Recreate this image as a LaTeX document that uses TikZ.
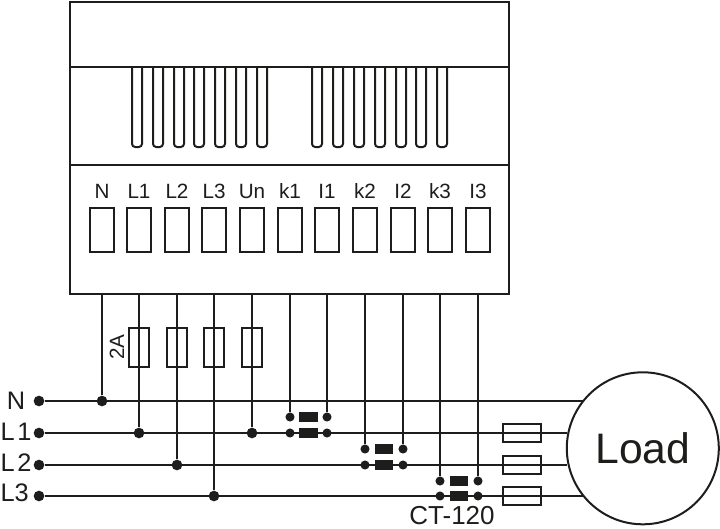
\documentclass[tikz,border=0pt]{standalone}
\usepackage{fontspec}
\setmainfont{Liberation Sans}
\definecolor{ink}{HTML}{1D1D1B}
\tikzset{
  wire/.style={draw=ink,line width=1.5pt},
  casebox/.style={draw=ink,line width=1.5pt,minimum width=329.25pt,minimum height=219pt,inner sep=0pt},
  slot/.style={draw=ink,line width=1.5pt,rounded corners=2.4pt},
  terminal/.style={draw=ink,line width=1.5pt,minimum width=18pt,minimum height=33pt,inner sep=0pt},
  termlabel/.style={text=ink,inner sep=0pt,font=\fontsize{15.5}{17}\selectfont},
  linelabel/.style={text=ink,inner sep=0pt,font=\fontsize{19}{21}\selectfont},
  fuse/.style={draw=ink,line width=1.5pt,minimum width=15pt,minimum height=29.25pt,inner sep=0pt},
  loadfuse/.style={draw=ink,line width=1.5pt,minimum width=28.5pt,minimum height=13.5pt,inner sep=0pt},
  dot/.style={circle,fill=ink,inner sep=0pt,minimum size=8pt},
  ctdot/.style={circle,fill=ink,inner sep=0pt,minimum size=6.8pt},
  core/.style={fill=ink,inner sep=0pt,minimum width=14pt,minimum height=8pt},
  loadcircle/.style={circle,draw=ink,line width=1.5pt,minimum size=114pt,inner sep=0pt,font=\fontsize{32}{35}\selectfont,text=ink}
}
\begin{document}
\begin{tikzpicture}[x=.75pt,y=-.75pt]
  \useasboundingbox (0,0) rectangle (720,528);
  % housing
  \node[casebox] (case) at (289.5,148) {};
  \draw[wire] (case.west |- 0,67) -- (case.east |- 0,67);
  \draw[wire] (case.west |- 0,165) -- (case.east |- 0,165);
  % vent slots
  \draw[slot] (132,67) -- (132,147) -- (142,147) -- (142,67);
  \draw[slot] (153,67) -- (153,147) -- (163,147) -- (163,67);
  \draw[slot] (174,67) -- (174,147) -- (184,147) -- (184,67);
  \draw[slot] (194,67) -- (194,147) -- (204,147) -- (204,67);
  \draw[slot] (215,67) -- (215,147) -- (225,147) -- (225,67);
  \draw[slot] (236,67) -- (236,147) -- (246,147) -- (246,67);
  \draw[slot] (257,67) -- (257,147) -- (267,147) -- (267,67);
  \draw[slot] (312,67) -- (312,147) -- (322,147) -- (322,67);
  \draw[slot] (333,67) -- (333,147) -- (343,147) -- (343,67);
  \draw[slot] (354,67) -- (354,147) -- (364,147) -- (364,67);
  \draw[slot] (375,67) -- (375,147) -- (385,147) -- (385,67);
  \draw[slot] (396,67) -- (396,147) -- (406,147) -- (406,67);
  \draw[slot] (416,67) -- (416,147) -- (426,147) -- (426,67);
  \draw[slot] (437,67) -- (437,147) -- (447,147) -- (447,67);
  % terminals
  \node[terminal] (tN) at (102,230) {};
  \node[terminal] (tLa) at (139,230) {};
  \node[terminal] (tLb) at (177,230) {};
  \node[terminal] (tLc) at (214,230) {};
  \node[terminal] (tUn) at (252,230) {};
  \node[terminal] (tka) at (290,230) {};
  \node[terminal] (tia) at (327,230) {};
  \node[terminal] (tkb) at (365,230) {};
  \node[terminal] (tib) at (403,230) {};
  \node[terminal] (tkc) at (440,230) {};
  \node[terminal] (tic) at (478,230) {};
  \node[termlabel,anchor=base] (nN) at (102,198) {N};
  \node[termlabel,anchor=base] (nLa) at (139,198) {L1};
  \node[termlabel,anchor=base] (nLb) at (177,198) {L2};
  \node[termlabel,anchor=base] (nLc) at (214,198) {L3};
  \node[termlabel,anchor=base] (nUn) at (252,198) {Un};
  \node[termlabel,anchor=base] (nka) at (290,198) {k1};
  \node[termlabel,anchor=base] (nia) at (327,198) {I1};
  \node[termlabel,anchor=base] (nkb) at (365,198) {k2};
  \node[termlabel,anchor=base] (nib) at (403,198) {I2};
  \node[termlabel,anchor=base] (nkc) at (440,198) {k3};
  \node[termlabel,anchor=base] (nic) at (478,198) {I3};
  % supply lines
  \node[linelabel] (lN) at (16,401) {N};
  \node[linelabel,anchor=west] (lLa) at (.3,431.7) {L\kern2pt 1};
  \node[linelabel,anchor=west] (lLb) at (.3,462.7) {L\kern2pt 2};
  \node[linelabel,anchor=west] (lLc) at (.3,492.3) {L3};
  \node[dot] (sN) at (39,401) {};
  \node[dot] (sLa) at (39,433) {};
  \node[dot] (sLb) at (39,465) {};
  \node[dot] (sLc) at (39,496) {};
  \node[loadcircle] (load) at (642.8,448.3) {Load};
  \coordinate (eN) at (583.3,401);
  \coordinate (eLa) at (567,433);
  \coordinate (eLb) at (567,465);
  \coordinate (eLc) at (583.7,496);
  \draw[wire] (sN) -- (eN);
  \draw[wire] (sLa) -- (eLa);
  \draw[wire] (sLb) -- (eLb);
  \draw[wire] (sLc) -- (eLc);
  % junctions
  \node[dot] (jN) at (102,401) {};
  \node[dot] (jLa) at (139,433) {};
  \node[dot] (jLb) at (177,465) {};
  \node[dot] (jLc) at (214,496) {};
  \node[dot] (jUn) at (252,433) {};
  % fuses
  \node[fuse] (fLa) at (139,347.5) {};
  \node[fuse] (fLb) at (177,347.5) {};
  \node[fuse] (fLc) at (214,347.5) {};
  \node[fuse] (fUn) at (252,347.5) {};
  \node[termlabel,rotate=90] (fuseval) at (117,347) {2A};
  \node[loadfuse] (fa) at (522,433) {};
  \node[loadfuse] (fb) at (522,465) {};
  \node[loadfuse] (fc) at (522,496) {};
  % current transformers
  \node[ctdot] (ka) at (290,417) {};
  \node[ctdot] (ia) at (327,417) {};
  \node[ctdot] (kap) at (290,433) {};
  \node[ctdot] (iap) at (327,433) {};
  \node[core] (ca) at (308.5,417) {};
  \node[core] (cap) at (308.5,433) {};
  \node[ctdot] (kb) at (365,449) {};
  \node[ctdot] (ib) at (403,449) {};
  \node[ctdot] (kbp) at (365,465) {};
  \node[ctdot] (ibp) at (403,465) {};
  \node[core] (cb) at (384,449) {};
  \node[core] (cbp) at (384,465) {};
  \node[ctdot] (kc) at (440,481) {};
  \node[ctdot] (ic) at (478,481) {};
  \node[ctdot] (kcp) at (440,496) {};
  \node[ctdot] (icp) at (478,496) {};
  \node[core] (cc) at (459,481) {};
  \node[core] (ccp) at (459,496) {};
  \node[text=ink,inner sep=0pt,anchor=base,font=\fontsize{19.5}{22}\selectfont] (ctname) at (452,524.5) {CT-120};
  % wires from the terminals
  \draw[wire] (tN |- case.south) -- (jN);
  \draw[wire] (tLa |- case.south) -- (jLa);
  \draw[wire] (tLb |- case.south) -- (jLb);
  \draw[wire] (tLc |- case.south) -- (jLc);
  \draw[wire] (tUn |- case.south) -- (jUn);
  \draw[wire] (tka |- case.south) -- (ka);
  \draw[wire] (tia |- case.south) -- (ia);
  \draw[wire] (tkb |- case.south) -- (kb);
  \draw[wire] (tib |- case.south) -- (ib);
  \draw[wire] (tkc |- case.south) -- (kc);
  \draw[wire] (tic |- case.south) -- (ic);
\end{tikzpicture}
\end{document}
